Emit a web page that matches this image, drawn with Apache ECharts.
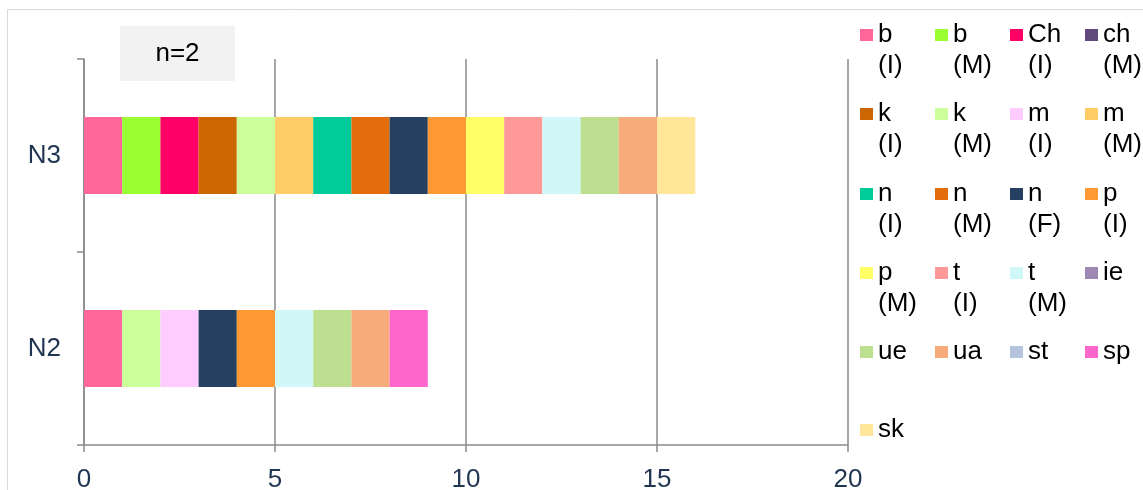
<!DOCTYPE html>
<html>
<head>
<meta charset="utf-8">
<script src="https://cdn.jsdelivr.net/npm/echarts@6/dist/echarts.min.js"></script>
<style>
  html, body { margin: 0; padding: 0; background: #fff; }
  #chart { width: 1143px; height: 490px; }
</style>
</head>
<body>
<div id="chart"></div>
<script>
// Categories on the vertical axis (bottom to top)
const categories = ['N2', 'N3'];

// Sound classes, stacked left to right in this order
const seriesNames = [
  'b (I)', 'b (M)', 'Ch (I)', 'ch (M)',
  'k (I)', 'k (M)', 'm (I)', 'm (M)',
  'n (I)', 'n (M)', 'n (F)', 'p (I)',
  'p (M)', 't (I)', 't (M)', 'ie',
  'ue', 'ua', 'st', 'sp',
  'sk'
];

const seriesColors = [
  '#FF6699', '#99FF33', '#FF0066', '#604A7B',
  '#CC6600', '#CCFF99', '#FFCCFF', '#FFCC66',
  '#00CC99', '#E46C0A', '#254061', '#FF9933',
  '#FFFF66', '#FF9999', '#D0F8F8', '#9C88B2',
  '#BDE090', '#F8AB7A', '#B4C3DE', '#FF66CC',
  '#FFE699'
];

// Counts per class for N2 and N3
const valuesN2 = [1, 0, 0, 0, 0, 1, 1, 0, 0, 0, 1, 1, 0, 0, 1, 0, 1, 1, 0, 1, 0];
const valuesN3 = [1, 1, 1, 0, 1, 1, 0, 1, 1, 1, 1, 1, 1, 1, 1, 0, 1, 1, 0, 0, 1];

// Value axis ticks
const xMin = 0, xMax = 20, xStep = 5;

const noteText = 'n=2';

const axisGray = '#8a8a8a';
const labelNavy = '#1F3552';
const textFont = 'Liberation Sans';

// Legend grid: 4 columns, one legend component per entry
const legendCols = [860, 935, 1010, 1085];
const legendRows = [34, 113, 193, 272, 351, 429];

// Each entry is laid out as three text lines (blank, name, qualifier) so the
// swatch sits level with the first visible line.
function legendLabel(name) {
  const parts = name.split(' ');
  return '{t| }\n{t|' + parts[0] + '}\n{t|' + (parts[1] || ' ') + '}';
}

const legends = seriesNames.map(function (name, i) {
  return {
    data: [name],
    left: legendCols[i % 4],
    top: legendRows[Math.floor(i / 4)] - 43,
    padding: 0,
    itemGap: 0,
    itemWidth: 13,
    itemHeight: 12,
    icon: 'rect',
    selectedMode: false,
    formatter: legendLabel,
    textStyle: {
      color: '#000',
      rich: {
        t: { fontFamily: textFont, fontSize: 26, lineHeight: 31, color: '#000' }
      }
    }
  };
});

const series = seriesNames.map(function (name, i) {
  return {
    name: name,
    type: 'bar',
    stack: 'total',
    barWidth: '40%',
    itemStyle: { color: seriesColors[i] },
    emphasis: { disabled: true },
    data: [valuesN2[i], valuesN3[i]]
  };
});

const chart = echarts.init(document.getElementById('chart'), null, { renderer: 'canvas' });
chart.setOption({
  backgroundColor: '#fff',
  animation: false,
  grid: {
    left: 84, right: 295, top: 59, bottom: 45,
    containLabel: false,
    outerBoundsMode: 'none'
  },
  legend: legends,
  xAxis: {
    type: 'value',
    min: xMin,
    max: xMax,
    interval: xStep,
    axisLine: { show: true, lineStyle: { color: axisGray, width: 1.5 } },
    axisTick: { show: true, length: 7, lineStyle: { color: axisGray, width: 1.5 } },
    splitLine: { show: true, lineStyle: { color: axisGray, width: 1.5 } },
    axisLabel: { color: labelNavy, fontFamily: textFont, fontSize: 26, margin: 22 }
  },
  yAxis: {
    type: 'category',
    data: categories,
    axisLine: { show: true, lineStyle: { color: axisGray, width: 1.5 } },
    axisTick: { show: true, length: 7, lineStyle: { color: axisGray, width: 1.5 } },
    axisLabel: { color: labelNavy, fontFamily: textFont, fontSize: 26, margin: 23 }
  },
  graphic: [
    {
      type: 'rect',
      silent: true,
      shape: { x: 7.5, y: 9.5, width: 1200, height: 600 },
      style: { fill: 'none', stroke: '#d9d9d9', lineWidth: 1 }
    },
    {
      type: 'rect',
      silent: true,
      shape: { x: 120, y: 26, width: 115, height: 55 },
      style: { fill: '#f2f2f2' }
    },
    {
      type: 'text',
      silent: true,
      x: 177.5,
      y: 54,
      style: {
        text: noteText,
        fill: '#000',
        font: '26px ' + textFont,
        align: 'center',
        verticalAlign: 'middle'
      }
    }
  ],
  series: series
});
</script>
</body>
</html>
